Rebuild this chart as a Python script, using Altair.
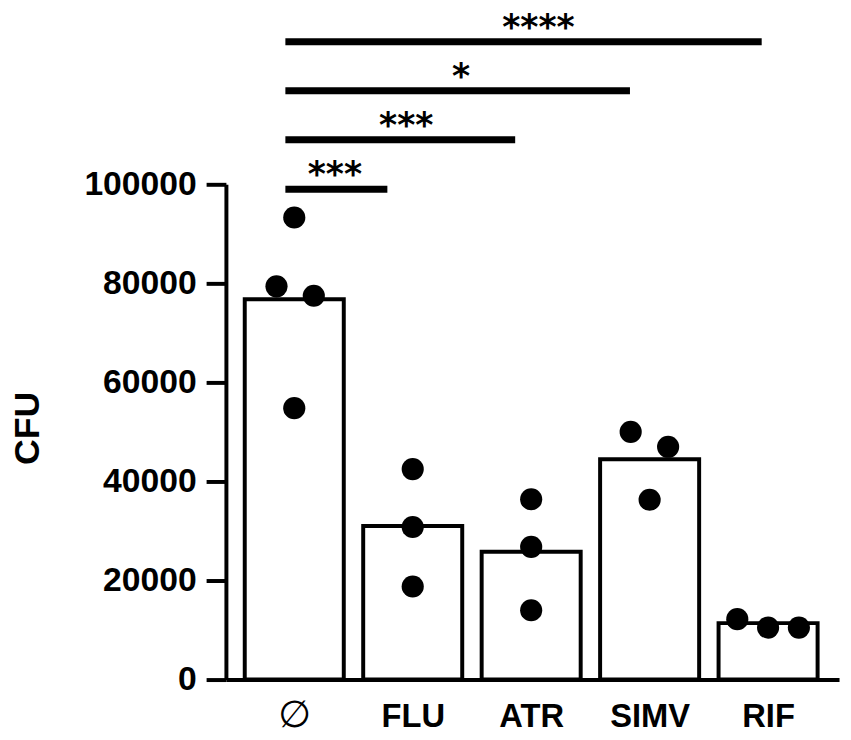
import json
import altair as alt
import pandas as pd

# ---- data ----
categories = ["∅", "FLU", "ATR", "SIMV", "RIF"]
bar_means = [76800, 31000, 25800, 44500, 11400]

pt_group = [0, 0, 0, 0, 1, 1, 1, 2, 2, 2, 3, 3, 3, 4, 4, 4]
pt_value = [93300, 79400, 77500, 54800,
            42500, 30800, 18800,
            36400, 26800, 14000,
            50000, 47000, 36300,
            12200, 10500, 10500]
pt_jitter = [0, -0.15, 0.165, 0,
             0, 0, 0,
             0, 0, 0,
             -0.16, 0.156, 0,
             -0.26, 0, 0.26]

sig_labels = ["***", "***", "*", "****"]
sig_start = [-0.075, -0.075, -0.075, -0.075]
sig_end = [0.786, 1.865, 2.834, 3.946]
sig_y = [99000, 109000, 118900, 128800]
sig_label_x = [0.343, 0.945, 1.409, 2.061]

y_ticks = [0, 20000, 40000, 60000, 80000, 100000]

# ---- tables ----
bars = pd.DataFrame({
    "pos": list(range(len(categories))),
    "cat": categories,
    "mean": bar_means,
})
bars["x0"] = bars["pos"] - 0.418
bars["x1"] = bars["pos"] + 0.418

pts = pd.DataFrame({"g": pt_group, "v": pt_value, "j": pt_jitter})
pts["xp"] = pts["g"] + pts["j"]

sig = pd.DataFrame({
    "lab": sig_labels, "xs": sig_start, "xe": sig_end,
    "y": sig_y, "xl": sig_label_x,
})

FONT = "Liberation Sans, Arial, Helvetica, sans-serif"
xscale = alt.Scale(domain=[-0.577, 4.599], nice=False, zero=False)
yscale = alt.Scale(domain=[0, 100000], nice=False)

label_expr = json.dumps(categories) + "[datum.value]"

x_axis = alt.Axis(
    values=list(range(len(categories))),
    labelExpr=label_expr,
    title=None,
    ticks=False,
    tickSize=0,
    grid=False,
    domainColor="black",
    domainWidth=4,
    labelFont={"condition": {"test": "datum.value == 0", "value": "DejaVu Sans"}, "value": FONT},
    labelFontSize={"condition": {"test": "datum.value == 0", "value": 38}, "value": 33},
    labelFontWeight={"condition": {"test": "datum.value == 0", "value": "normal"}, "value": "bold"},
    labelColor="black",
    labelBaseline="alphabetic",
    labelPadding=47,
)

y_axis = alt.Axis(
    values=y_ticks,
    format="d",
    title="CFU",
    grid=False,
    domainColor="black",
    domainWidth=4,
    tickColor="black",
    tickWidth=4,
    tickSize=20,
    labelFont=FONT,
    labelFontSize=34,
    labelFontWeight="bold",
    labelColor="black",
    labelPadding=10,
    titleFont=FONT,
    titleFontSize=36,
    titleFontWeight="bold",
    titleColor="black",
    titleAngle=270,
    titleBaseline="middle",
    titleX=-200,
    titleY=246,
)

bar_layer = alt.Chart(bars).mark_rect(
    fill="white", stroke="black", strokeWidth=4
).encode(
    x=alt.X("x0:Q", scale=xscale, axis=x_axis),
    x2="x1:Q",
    y=alt.Y("mean:Q", scale=yscale, axis=y_axis),
    y2=alt.datum(0),
)

pt_layer = alt.Chart(pts).mark_circle(
    color="black", opacity=1, size=500
).encode(
    x=alt.X("xp:Q", scale=xscale),
    y=alt.Y("v:Q", scale=yscale),
)

rule_layer = alt.Chart(sig).mark_rule(
    color="black", strokeWidth=7
).encode(
    x=alt.X("xs:Q", scale=xscale),
    x2="xe:Q",
    y=alt.Y("y:Q", scale=yscale),
)

text_layer = alt.Chart(sig).mark_text(
    font="DejaVu Sans", fontWeight="bold", fontSize=35,
    color="black", baseline="alphabetic", align="center", dy=-3,
).encode(
    x=alt.X("xl:Q", scale=xscale),
    y=alt.Y("y:Q", scale=yscale),
    text="lab:N",
)

chart = alt.layer(bar_layer, pt_layer, rule_layer, text_layer).properties(
    width=619,
    height=500,
    autosize=alt.AutoSizeParams(type="none"),
    padding={"left": 220, "top": 174.5, "right": 4, "bottom": 56},
    background="white",
).configure_view(stroke=None)

chart.save("out.html", embed_options={"renderer": "svg", "actions": False})
